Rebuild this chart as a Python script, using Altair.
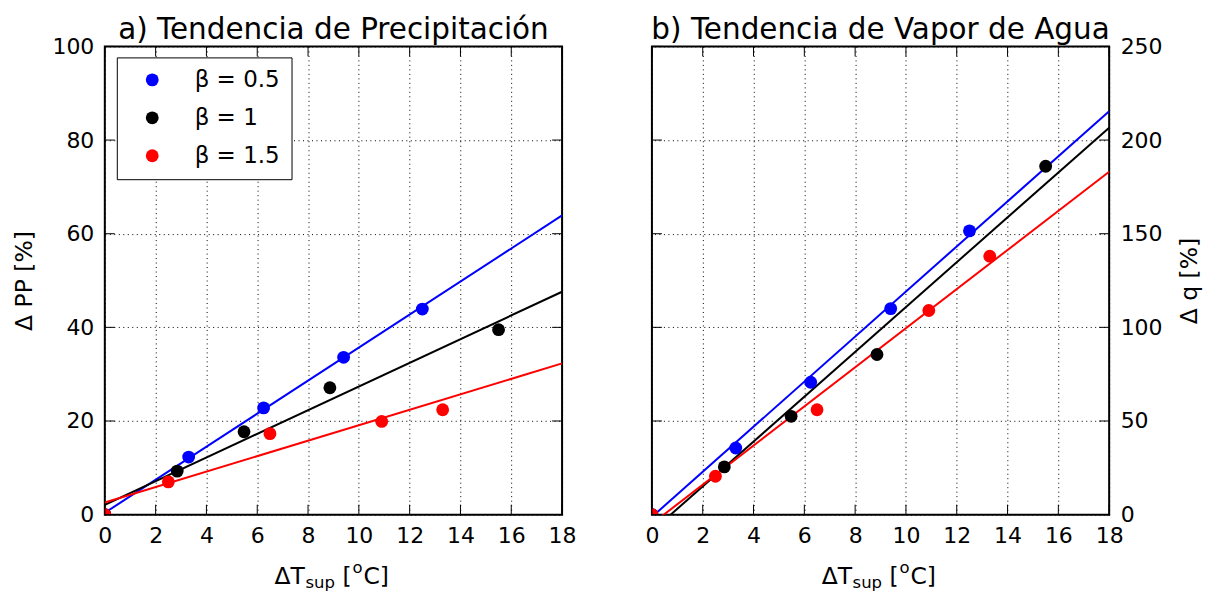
import altair as alt
import pandas as pd

# ---------------- data ----------------
BETAS = ["β = 0.5", "β = 1", "β = 1.5"]
COLORS = ["#0000ff", "#000000", "#ff0000"]

DT_05 = [0, 3.3, 6.25, 9.4, 12.5]
PP_05 = [0, 12.3, 22.8, 33.6, 43.9]
Q_05 = [0, 35.6, 70.7, 110.0, 151.5]

DT_10 = [0, 2.85, 5.48, 8.86, 15.5]
PP_10 = [0, 9.3, 17.7, 27.1, 39.5]
Q_10 = [0, 25.5, 52.5, 85.5, 186.0]

DT_15 = [0, 2.5, 6.5, 10.9, 13.3]
PP_15 = [0, 7.0, 17.3, 19.9, 22.4]
Q_15 = [0, 20.5, 56.0, 109.0, 138.0]

FIT_X = [0, 18]
FIT_PP_05 = [0.4, 63.9]
FIT_PP_10 = [2.1, 47.6]
FIT_PP_15 = [2.6, 32.3]
FIT_Q_05 = [-1.2, 215.4]
FIT_Q_10 = [-8.85, 206.6]
FIT_Q_15 = [-4.9, 183.1]

X_TICKS = [0, 2, 4, 6, 8, 10, 12, 14, 16, 18]
PP_TICKS = [0, 20, 40, 60, 80, 100]
Q_TICKS = [0, 50, 100, 150, 200, 250]

TITLE_A = "a) Tendencia de Precipitación"
TITLE_B = "b) Tendencia de Vapor de Agua"
YTITLE_A = "Δ PP [%]"
YTITLE_B = "Δ q [%]"
XTITLE_PARTS = ["ΔT", "sup", "[", "o", "C]"]

# ---------------- tables ----------------
pts = pd.DataFrame({
    "beta": [BETAS[0]] * len(DT_05) + [BETAS[1]] * len(DT_10) + [BETAS[2]] * len(DT_15),
    "dt": DT_05 + DT_10 + DT_15,
    "pp": PP_05 + PP_10 + PP_15,
    "q": Q_05 + Q_10 + Q_15,
})
FITS_PP = [FIT_PP_05, FIT_PP_10, FIT_PP_15]
FITS_Q = [FIT_Q_05, FIT_Q_10, FIT_Q_15]
xt = pd.DataFrame({"v": X_TICKS})
one = pd.DataFrame({"a": [0]})

W, H = 458, 469
FONT = "DejaVu Sans"
TICK = 10

cscale = alt.Scale(domain=BETAS, range=COLORS)

AX = dict(
    domain=False, ticks=False, grid=True, gridColor="black", gridDash=[1, 3.5],
    gridWidth=1, labelFontSize=22, labelFont=FONT, labelColor="black",
    labelPadding=11, labelFlush=False, labelOverlap=False,
    titleFontSize=23.5, titleFont=FONT, titleFontWeight="normal",
    titleColor="black", titlePadding=15,
)


def panel(ycol, fitlist, yticks, ydomain, title, ytitle, yorient, legend):
    xs = alt.Scale(domain=[0, 18], nice=False, zero=False)
    ys = alt.Scale(domain=ydomain, nice=False, zero=False)
    xaxis = alt.Axis(values=X_TICKS, title=None, **AX)
    if yorient == "right":
        yaxis = alt.Axis(values=yticks, title=ytitle, orient=yorient, titleAngle=270,
                         titleBaseline="top", **AX)
    else:
        yaxis = alt.Axis(values=yticks, title=ytitle, orient=yorient, titleAngle=270, **AX)
    yt = pd.DataFrame({"v": yticks})

    def X(f):
        return alt.X(f, scale=xs, axis=xaxis)

    def Y(f):
        return alt.Y(f, scale=ys, axis=yaxis)

    layers = []
    for col, fy in zip(COLORS, fitlist):
        fd = pd.DataFrame({"dt": FIT_X, "y": fy})
        layers.append(
            alt.Chart(fd).mark_line(color=col, clip=True, strokeWidth=2)
            .encode(x=X("dt:Q"), y=Y("y:Q"))
        )
    layers.append(
        alt.Chart(pts).mark_circle(size=165, opacity=1, clip=True).encode(
            x=X("dt:Q"), y=Y(f"{ycol}:Q"),
            color=alt.Color("beta:N", scale=cscale, legend=legend),
        )
    )
    layers += [
        alt.Chart(xt).mark_rule(color="black", strokeWidth=1).encode(
            x=X("v:Q"), y=alt.value(H), y2=alt.value(H - TICK)),
        alt.Chart(xt).mark_rule(color="black", strokeWidth=1).encode(
            x=X("v:Q"), y=alt.value(0), y2=alt.value(TICK)),
        alt.Chart(yt).mark_rule(color="black", strokeWidth=1).encode(
            y=Y("v:Q"), x=alt.value(0), x2=alt.value(TICK)),
        alt.Chart(yt).mark_rule(color="black", strokeWidth=1).encode(
            y=Y("v:Q"), x=alt.value(W), x2=alt.value(W - TICK)),
    ]

    specs = [
        (XTITLE_PARTS[0], 170, H + 69, 23.5),
        (XTITLE_PARTS[1], 201, H + 73, 16.5),
        (XTITLE_PARTS[2], 238, H + 69, 23.5),
        (XTITLE_PARTS[3], 248, H + 58, 16.5),
        (XTITLE_PARTS[4], 259, H + 69, 23.5),
    ]
    for t, px, py, fs in specs:
        layers.append(
            alt.Chart(one).mark_text(text=t, align="left", baseline="alphabetic",
                                     fontSize=fs, font=FONT, color="black")
            .encode(x=alt.value(px), y=alt.value(py))
        )

    return alt.layer(*layers).properties(
        width=W, height=H,
        title=alt.TitleParams(title, fontSize=29.5, font=FONT, fontWeight="normal",
                              anchor="middle", frame="group", offset=-10,
                              color="black"),
    )


legend = alt.Legend(
    orient="none", legendX=12, legendY=11, title=None,
    strokeColor="black", fillColor="white", padding=11, cornerRadius=0,
    labelFontSize=23, labelFont=FONT, labelColor="black", labelLimit=400,
    symbolSize=165, symbolType="circle", symbolStrokeWidth=0,
    symbolOffset=13, labelOffset=31, rowPadding=14,
)

left = panel("pp", FITS_PP, PP_TICKS, [0, 100], TITLE_A, YTITLE_A, "left", legend)
right = panel("q", FITS_Q, Q_TICKS, [0, 250], TITLE_B, YTITLE_B, "right", None)

chart = alt.hconcat(left, right, spacing=67).resolve_legend(
    color="independent"
).properties(
    padding={"left": 12, "top": 13, "right": 5, "bottom": 0}
).configure(font=FONT).configure_view(
    stroke="black", strokeWidth=2
)

chart.save("out.html", embed_options={"renderer": "svg", "actions": False})
